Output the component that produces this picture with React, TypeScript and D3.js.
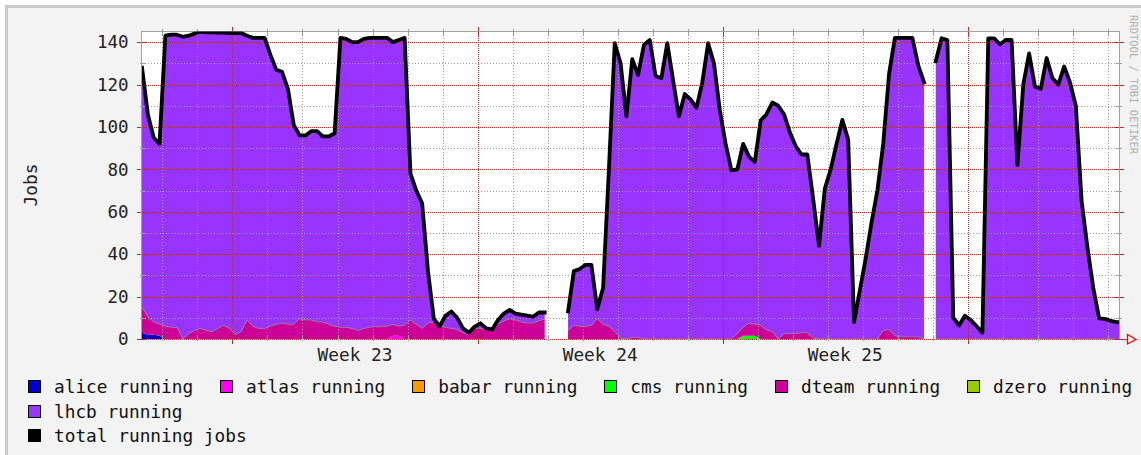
import * as d3 from 'd3';

// samples every 4 hours, starting Fri 30 May 2008 10:00
const START = new Date(2008, 4, 30, 10, 0);
const STEP_HOURS = 4;
const END = new Date(START.getTime() + 167.4 * STEP_HOURS * 3600 * 1000);

const aliceRunning = [
  3, 2, 2, 1.5, 0, 0, 0, 0, 0, 0, 0, 0,
  0, 0, 0, 0, 0, 0, 0, 0, 0, 0, 0, 0,
  0, 0, 0, 0, 0, 0, 0, 0, 0, 0, 0, 0,
  0, 0, 0, 0, 0, 0, 0, 0, 0, 0, 0, 0,
  0, 0, 0, 0, 0, 0, 0, 0, 0, 0, 0, 0,
  0, 0, 0, 0, 0, 0, 0, 0, 0, 0, null, null,
  null, 0, 0, 0, 0, 0, 0, 0, 0, 0, 0, 0,
  0, 0, 0, 0, 0, 0, 0, 0, 0, 0, 0, 0,
  0, 0, 0, 0, 0, 0, 0, 0, 0, 0, 0, 0,
  0, 0, 0, 0, 0, 0, 0, 0, 0, 0, 0, 0,
  0, 0, 0, 0, 0, 0, 0, 0, 0, 0, 0, 0,
  0, 0, 0, null, 0, 0, 0, 0, 0, 0, 0, 0,
  0, 0, 0, 0, 0, 0, 0, 0, 0, 0, 0, 0,
  0, 0, 0, 0, 0, 0, 0, 0, 0, 0, 0, 0,
  0,
];
const atlasRunning = [
  0, 0, 0, 0, 0, 0, 0, 0, 0, 0, 0, 0,
  0, 0, 0, 0, 0, 0, 0, 0, 0, 0, 0, 0,
  0, 0, 0, 0, 0, 0, 0, 0, 0, 0, 0, 0,
  0, 0, 0, 0, 0, 0, 0, 1.5, 1.5, 0, 0, 0,
  0, 0, 0, 0, 0, 0, 0, 0, 0, 0, 0, 0,
  0, 0, 0, 0, 0, 0, 0, 0, 0, 0, null, null,
  null, 0, 0, 0, 0, 0, 0, 0, 0, 0, 0, 0,
  0, 0, 0, 0, 0, 0, 0, 0, 0, 0, 0, 0,
  0, 0, 0, 0, 0, 0, 0, 0, 0, 0, 0, 0,
  0, 0, 0, 0, 0, 0, 0, 0, 0, 0, 0, 0,
  0, 0, 0, 0, 0, 0, 0, 0, 0, 0, 0, 0,
  0, 0, 0, null, 0, 0, 0, 0, 0, 0, 0, 0,
  0, 0, 0, 0, 0, 0, 0, 0, 0, 0, 0, 0,
  0, 0, 0, 0, 0, 0, 0, 0, 0, 0, 0, 0,
  0,
];
const babarRunning = [
  0, 0, 0, 0, 0, 0, 0, 0, 0, 0, 0, 0,
  0, 0, 0, 0, 0, 0, 0, 0, 0, 0, 0, 0,
  0, 0, 0, 0, 0, 0, 0, 0, 0, 0, 0, 0,
  0, 0, 0, 0, 0, 0, 0, 0, 0, 0, 0, 0,
  0, 0, 0, 0, 0, 0, 0, 0, 0, 0, 0, 0,
  0, 0, 0, 0, 0, 0, 0, 0, 0, 0, null, null,
  null, 0, 0, 0, 0, 0, 0, 0, 0, 0, 0, 0,
  0, 0, 0, 0, 0, 0, 0, 0, 0, 0, 0, 0,
  0, 0, 0, 0, 0, 0, 0, 0, 0, 0, 0, 0,
  0, 0, 0, 0, 0, 0, 0, 0, 0, 0, 0, 0,
  0, 0, 0, 0, 0, 0, 0, 0, 0, 0, 0, 0,
  0, 0, 0, null, 0, 0, 0, 0, 0, 0, 0, 0,
  0, 0, 0, 0, 0, 0, 0, 0, 0, 0, 0, 0,
  0, 0, 0, 0, 0, 0, 0, 0, 0, 0, 0, 0,
  0,
];
const cmsRunning = [
  0, 0, 0, 0, 0, 0, 0, 0, 0, 0, 0, 0,
  0, 0, 0, 0, 0, 0, 0, 0, 0, 0, 0, 0,
  0, 0, 0, 0, 0, 0, 0, 0, 0, 0, 0, 0,
  0, 0, 0, 0, 0, 0, 0, 0, 0, 0, 0, 0,
  0, 0, 0, 0, 0, 0, 0, 0, 0, 0, 0, 0,
  0, 0, 0, 0, 0, 0, 0, 0, 0, 0, null, null,
  null, 0, 0, 0, 0, 0, 0, 0, 0, 0, 0, 0,
  0, 0, 0, 0, 0, 0, 0, 0, 0, 0, 0, 0,
  0, 0, 0, 0, 0, 0, 0, 1.5, 1.5, 1.5, 0, 0,
  0, 0, 0, 0, 0, 0, 0, 0, 0, 0, 0, 0,
  0, 0, 0, 0, 0, 0, 0, 0, 0, 0, 0, 0,
  0, 0, 0, null, 0, 0, 0, 0, 0, 0, 0, 0,
  0, 0, 0, 0, 0, 0, 0, 0, 0, 0, 0, 0,
  0, 0, 0, 0, 0, 0, 0, 0, 0, 0, 0, 0,
  0,
];
const dteamRunning = [
  12, 8.5, 6, 5.5, 6, 5.5, 5.5, 0, 2.5, 4, 5, 4,
  3.5, 5, 6.5, 5, 2, 3.5, 9, 6, 5, 5, 6, 7,
  7.5, 7, 7, 9.5, 9, 9, 8, 8, 7, 6, 5.5, 5.5,
  5, 4, 5, 5.5, 6, 6, 6, 5.5, 4.5, 6.5, 9, 7,
  5, 7.5, 8, 6, 5.5, 5, 4.5, 3, 2, 5, 5, 4.5,
  4, 7, 8.5, 9.5, 9, 8, 7.5, 7.5, 8.5, 9.5, null, null,
  null, 4, 6.5, 6, 6, 6.5, 9.5, 7, 6, 3.5, 0.5, 0,
  0.7, 0.8, 0, 0, 0, 0, 0, 0, 0, 0, 0, 0,
  0, 0, 0, 0, 0, 0, 2.5, 4, 6, 5.5, 6.5, 4.2,
  3.5, 0, 2.5, 2.5, 2.5, 3, 3, 0.5, 0, 0, 0, 0,
  0, 0, 0, 0, 0, 0, 0, 4, 4.5, 1.5, 1, 1,
  1, 1, 0, null, 0, 0, 0, 0, 0, 0, 0, 0,
  0, 0, 0, 0, 0, 0, 0, 0, 0, 0, 0, 0,
  0, 0, 0, 0, 0, 0, 0, 0, 0, 0, 0, 0,
  0,
];
const dzeroRunning = [
  0, 0, 0, 0, 0, 0, 0, 0, 0, 0, 0, 0,
  0, 0, 0, 0, 0, 0, 0, 0, 0, 0, 0, 0,
  0, 0, 0, 0, 0, 0, 0, 0, 0, 0, 0, 0,
  0, 0, 0, 0, 0, 0, 0, 0, 0, 0, 0, 0,
  0, 0, 0, 0, 0, 0, 0, 0, 0, 0, 0, 0,
  0, 0, 0, 0, 0, 0, 0, 0, 0, 0, null, null,
  null, 0, 0, 0, 0, 0, 0, 0, 0, 0, 0, 0,
  0, 0, 0, 0, 0, 0, 0, 0, 0, 0, 0, 0,
  0, 0, 0, 0, 0, 0, 0, 0, 0, 0, 0, 0,
  0, 0, 0, 0, 0, 0, 0, 0, 0, 0, 0, 0,
  0, 0, 0, 0, 0, 0, 0, 0, 0, 0, 0, 0,
  0, 0, 0, null, 0, 0, 0, 0, 0, 0, 0, 0,
  0, 0, 0, 0, 0, 0, 0, 0, 0, 0, 0, 0,
  0, 0, 0, 0, 0, 0, 0, 0, 0, 0, 0, 0,
  0,
];
const lhcbRunning = [
  113, 95.5, 87, 85, 137, 138, 138, 142.5, 140.5, 140, 140, 140.6,
  141.1, 139.5, 138, 139.3, 142.3, 140.8, 134, 136, 137, 137, 128, 120,
  118.5, 111, 94, 86.5, 87, 89, 90, 87.5, 88.5, 91, 136.5, 136,
  135, 136, 136.5, 136.5, 136, 136, 136, 133, 135, 135.5, 69, 63,
  59, 24.5, 1.5, 0, 5.5, 8, 5.5, 2, 1, 0.8, 2.4, 0.5,
  0.5, 2, 3.5, 4.2, 3, 3.5, 3.5, 3, 4, 3, null, null,
  null, 9, 25.5, 27, 29, 28.5, 4.5, 17, 74, 136, 129.5, 105,
  131.3, 123.7, 138.7, 141, 124, 123, 139.5, 122, 105, 115.5, 113, 109,
  121, 139.5, 130, 108, 92, 79.5, 77.5, 86.5, 78.5, 76.5, 96.5, 101.8,
  108, 110, 103.5, 95, 88.5, 84, 84, 65.5, 44, 71, 80, 92,
  103.3, 94, 8, 23, 38, 55, 70, 88, 120.5, 140.5, 141, 141,
  141, 128, 121, null, 131, 141.8, 141, 10, 6.5, 11, 9, 6,
  3, 141.8, 141.8, 139, 141, 141, 82, 120, 134.7, 119, 118, 132.5,
  123, 120, 128.5, 121, 110, 65, 43, 24, 9.7, 9.5, 8.5, 8,
  8,
];

const yTickValues = [0, 10, 20, 30, 40, 50, 60, 70, 80, 90, 100, 110, 120, 130, 140];

const series = [
  { key: 'alice', label: 'alice running', color: '#0000cc', values: aliceRunning },
  { key: 'atlas', label: 'atlas running', color: '#ff00ff', values: atlasRunning },
  { key: 'babar', label: 'babar running', color: '#ff9900', values: babarRunning },
  { key: 'cms', label: 'cms running', color: '#00ff00', values: cmsRunning },
  { key: 'dteam', label: 'dteam running', color: '#cc0099', values: dteamRunning },
  { key: 'dzero', label: 'dzero running', color: '#99cc00', values: dzeroRunning },
  { key: 'lhcb', label: 'lhcb running', color: '#9933ff', values: lhcbRunning },
];
const totalLabel = 'total running jobs';

const FONT = '"DejaVu Sans Mono", monospace';
const MAJOR = '#b03030';
const MINOR = '#a0a0a0';

export default function App() {
  const width = 1141;
  const height = 455;
  const left = 142;
  const right = 1119;
  const top = 31.5;
  const bottom = 339;

  const x = d3.scaleTime().domain([START, END]).range([left, right]);
  const y = d3.scaleLinear().domain([0, 145]).range([bottom, top]);
  const times = lhcbRunning.map((_, i) => d3.timeHour.offset(START, i * STEP_HOURS));

  const rows = times.map((t, i) => {
    const r: any = { t };
    series.forEach((s) => (r[s.key] = s.values[i] ?? 0));
    return r;
  });
  const stacked = d3.stack<any>().keys(series.map((s) => s.key))(rows);
  const defined = (_: any, i: number) => lhcbRunning[i] !== null;

  const area = d3
    .area<any>()
    .defined(defined)
    .x((_, i) => x(times[i]))
    .y0((d) => y(d[0]))
    .y1((d) => y(d[1]));
  const topLine = d3
    .line<any>()
    .defined(defined)
    .x((_, i) => x(times[i]))
    .y((d) => y(d[1]));

  const snap = (v: number) => Math.round(v) + 0.5;

  const days = d3.timeDay.range(d3.timeDay.ceil(START), END).filter((d) => d.getDay() !== 1);
  const weeks = d3.timeMonday.range(START, END);
  const weekFormat = d3.timeFormat('%V');
  const weekLabels = weeks.filter((w) => d3.timeDay.offset(w, 7) <= END);

  // legend layout, rrdtool style flowing rows
  const charW = 10.7;
  const legendRows = [series.slice(0, 6), [series[6]], [{ key: 'total', label: totalLabel, color: '#000000' }]];
  const rowY = [387, 411.5, 436];

  return (
    <svg
      width={width}
      height={height}
      style={{ position: 'absolute', left: 0, top: 0, display: 'block', background: '#ffffff' }}
    >
      <rect x={6.5} y={6.5} width={1300} height={600} fill="#f3f3f3" stroke="#cbcbcb" strokeWidth={3} />
      <defs>
        <clipPath id="plot">
          <rect x={left} y={top} width={right - left} height={bottom - top} />
        </clipPath>
      </defs>
      <rect x={left} y={top} width={right - left} height={bottom - top} fill="#ffffff" />

      <g clipPath="url(#plot)">
        {stacked.map((layer, k) => (
          <path key={layer.key} d={area(layer) ?? ''} fill={series[k].color} />
        ))}
        {/* thin edge on top of the dteam layer */}
        <path d={topLine(stacked[4]) ?? ''} fill="none" stroke="#888" strokeWidth={1} opacity={0.8} />
      </g>

      {/* grid */}
      <g shapeRendering="crispEdges">
        {yTickValues.map((v) => {
          const major = v % 20 === 0;
          const yy = snap(y(v));
          return (
            <g key={'y' + v}>
              <line x1={left} x2={right} y1={yy} y2={yy} stroke={major ? MAJOR : MINOR} strokeDasharray={major ? '1,1' : '1,2'} />
              <line x1={left - (major ? 5 : 2)} x2={left + (major ? 5 : 3)} y1={yy} y2={yy} stroke={major ? MAJOR : MINOR} />
              <line x1={right - (major ? 5 : 3)} x2={right + (major ? 5 : 3)} y1={yy} y2={yy} stroke={major ? MAJOR : MINOR} />
            </g>
          );
        })}
        {days.map((d) => {
          const xx = snap(x(d));
          return (
            <g key={'d' + d.getTime()}>
              <line x1={xx} x2={xx} y1={top} y2={bottom} stroke={MINOR} strokeDasharray="1,2" />
              <line x1={xx} x2={xx} y1={top - 3} y2={top + 3} stroke={MINOR} />
              <line x1={xx} x2={xx} y1={bottom - 3} y2={bottom + 2} stroke={MINOR} />
            </g>
          );
        })}
        {weeks.map((d) => {
          const xx = snap(x(d));
          return (
            <g key={'w' + d.getTime()}>
              <line x1={xx} x2={xx} y1={top} y2={bottom} stroke={MAJOR} strokeDasharray="1,1" />
              <line x1={xx} x2={xx} y1={top - 5} y2={top + 5} stroke={MAJOR} />
              <line x1={xx} x2={xx} y1={bottom - 5} y2={bottom + 5} stroke={MAJOR} />
            </g>
          );
        })}
        {/* frame */}
        <line x1={left - 0.5} x2={right + 0.5} y1={top - 0.5} y2={top - 0.5} stroke="#a0a0a0" />
        <line x1={left - 0.5} x2={left - 0.5} y1={top - 0.5} y2={bottom} stroke="#a0a0a0" />
        <line x1={right + 0.5} x2={right + 0.5} y1={top - 0.5} y2={bottom} stroke="#a0a0a0" />
        <line x1={right} x2={right + 9} y1={snap(y(0))} y2={snap(y(0))} stroke={MAJOR} />
      </g>

      {/* total running jobs */}
      <g clipPath="url(#plot)">
        <path
          d={topLine(stacked[stacked.length - 1]) ?? ''}
          fill="none"
          stroke="#000000"
          strokeWidth={3.8}
          strokeLinejoin="round"
          strokeLinecap="square"
        />
      </g>

      {/* x axis arrow */}
      <path
        d={`M${right + 8.5},${y(0) - 4.5} L${right + 17},${y(0) + 0.5} L${right + 8.5},${y(0) + 5} Z`}
        fill="none"
        stroke="#ff0000"
        strokeWidth={1.3}
      />

      {/* y labels */}
      {yTickValues
        .filter((v) => v % 20 === 0)
        .map((v) => (
          <text
            key={'yl' + v}
            x={128.5}
            y={y(v)}
            dy="0.36em"
            textAnchor="end"
            fontFamily={FONT}
            fontSize={17.5}
            fill="#222"
          >
            {v}
          </text>
        ))}
      {weekLabels.map((w) => (
        <text
          key={'wl' + w.getTime()}
          x={x(d3.timeHour.offset(w, 84))}
          y={361}
          textAnchor="middle"
          fontFamily={FONT}
          fontSize={17.8}
          fill="#222"
        >
          {'Week ' + +weekFormat(w)}
        </text>
      ))}
      <text
        transform="translate(37,185) rotate(-90)"
        textAnchor="middle"
        fontFamily={FONT}
        fontSize={17.8}
        fill="#222"
      >
        Jobs
      </text>
      <text transform="translate(1130,15) rotate(90)" fontFamily={FONT} fontSize={10.5} fill="#b0b0b0">
        RRDTOOL / TOBI OETIKER
      </text>

      {/* legend */}
      {legendRows.map((items, r) => {
        let bx = 28;
        return items.map((s) => {
          const cx = bx;
          bx += 26 + s.label.length * charW + 27;
          return (
            <g key={s.key}>
              <rect x={cx + 0.5} y={rowY[r] - 6.5} width={12} height={12} fill={s.color} stroke="#000" shapeRendering="crispEdges" />
              <text x={cx + 26} y={rowY[r] + 6} fontFamily={FONT} fontSize={17.8} fill="#111">
                {s.label}
              </text>
            </g>
          );
        });
      })}
    </svg>
  );
}
